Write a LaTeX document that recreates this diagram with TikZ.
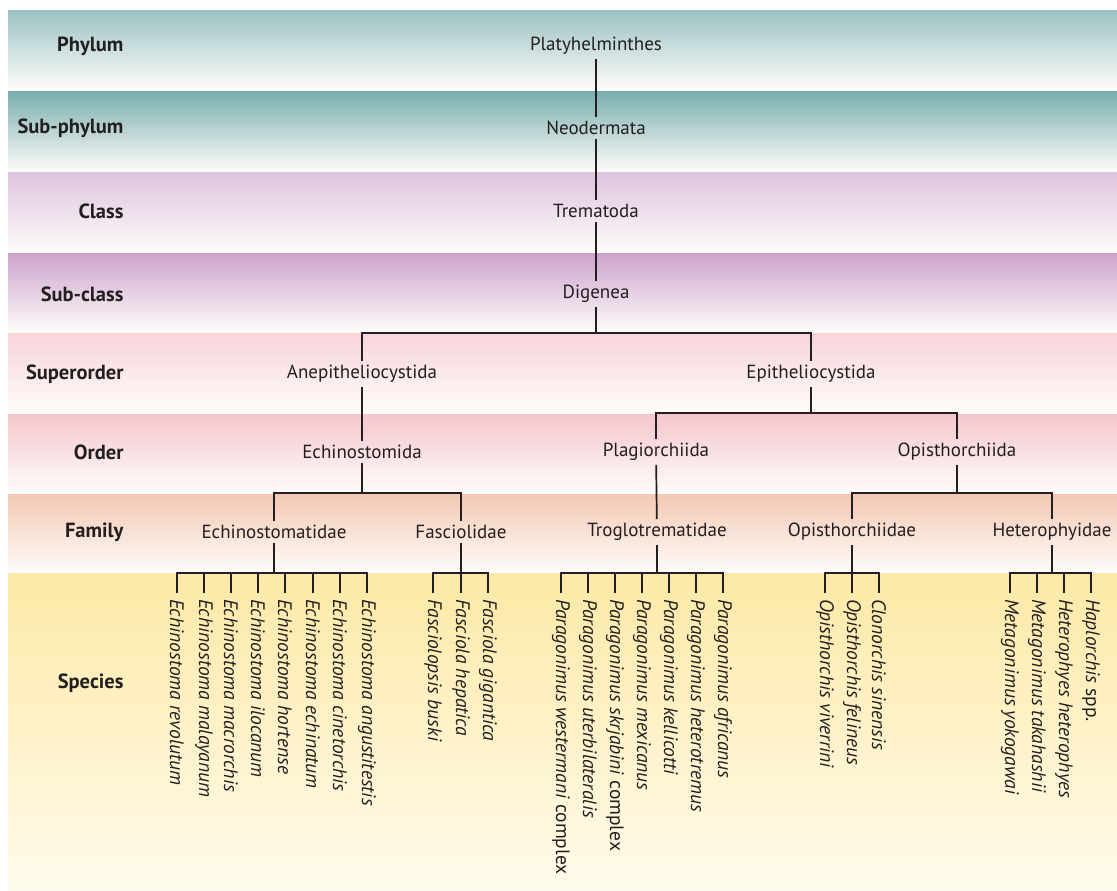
\documentclass[tikz,border=0pt]{standalone}
\usepackage{fontspec}
\setmainfont{PT Sans}
\usetikzlibrary{positioning}

\definecolor{inkc}{RGB}{35,31,32}
\definecolor{phylumc}{RGB}{158,195,196}
\definecolor{subphylumc}{RGB}{122,174,174}
\definecolor{classc}{RGB}{222,195,222}
\definecolor{subclassc}{RGB}{205,163,204}
\definecolor{superorderc}{RGB}{248,212,217}
\definecolor{orderc}{RGB}{245,198,205}
\definecolor{familyc}{RGB}{244,200,178}
\definecolor{speciesc}{RGB}{253,233,166}
\definecolor{paleend}{RGB}{254,252,250}
\definecolor{speciesend}{RGB}{255,251,236}

\tikzset{
  rank/.style={anchor=east, text=inkc, font=\fontsize{20.5}{22}\selectfont\bfseries},
  taxon/.style={text=inkc, inner sep=4pt, font=\fontsize{19}{21}\selectfont},
  species/.style={rotate=-90, anchor=west, inner sep=2pt, outer sep=4pt,
    text=inkc, font=\fontsize{19.5}{21}\selectfont\itshape},
  tree/.style={draw=inkc, line width=1.7pt}
}

\begin{document}
\begin{tikzpicture}[x=1pt, y=-1pt]
  \useasboundingbox (0,0) rectangle (1117,891);

  % Bands, one per rank
  \shade[top color=phylumc, bottom color=paleend] (8,11) rectangle (1117,90);
  \shade[top color=subphylumc, bottom color=paleend] (8,92) rectangle (1117,171);
  \shade[top color=classc, bottom color=paleend] (8,172) rectangle (1117,251);
  \shade[top color=subclassc, bottom color=paleend] (8,253) rectangle (1117,332);
  \shade[top color=superorderc, bottom color=paleend] (8,333) rectangle (1117,412);
  \shade[top color=orderc, bottom color=paleend] (8,414) rectangle (1117,492);
  \shade[top color=familyc, bottom color=paleend] (8,494) rectangle (1117,572);
  \shade[top color=speciesc, bottom color=speciesend] (8,573) rectangle (1117,891);

  % Rank names
  \node[rank] (rphylum) at (127,46) {Phylum};
  \node[rank] (rsubphylum) at (127,128) {Sub-phylum};
  \node[rank] (rclass) at (127,211) {Class};
  \node[rank] (rsubclass) at (127,294) {Sub-class};
  \node[rank] (rsuperorder) at (127,374) {Superorder};
  \node[rank] (rorder) at (127,452) {Order};
  \node[rank] (rfamily) at (127,532) {Family};
  \node[rank] (rspecies) at (127,683) {Species};

  % Upper taxa
  \node[taxon] (platy) at (596,46) {Platyhelminthes};
  \node[taxon] (neoder) at (596,128) {Neodermata};
  \node[taxon] (tremat) at (596,211) {Trematoda};
  \node[taxon] (digen) at (596,294) {Digenea};
  \node[taxon] (anepi) at (362,374) {Anepitheliocystida};
  \node[taxon] (epith) at (811,374) {Epitheliocystida};

  % Orders
  \node[taxon] (echord) at (362,452) {Echinostomida};
  \node[taxon] (plaord) at (656,452) {Plagiorchiida};
  \node[taxon] (opiord) at (957,452) {Opisthorchiida};

  % Families
  \node[taxon] (echfam) at (274,532) {Echinostomatidae};
  \node[taxon] (fasfam) at (461,532) {Fasciolidae};
  \node[taxon] (trofam) at (657,532) {Troglotrematidae};
  \node[taxon] (opifam) at (852,532) {Opisthorchiidae};
  \node[taxon] (hetfam) at (1052,532) {Heterophyidae};

  % Heights of the branching bars
  \coordinate (barsup) at (0,333);
  \coordinate (barord) at (0,413);
  \coordinate (barfam) at (0,493);
  \coordinate (barspe) at (0,573);

  % Species under Echinostomatidae
  \node[species] (ech1) at (177,593) {Echinostoma revolutum};
  \node[species] (ech2) at (204,593) {Echinostoma malayanum};
  \node[species] (ech3) at (231,593) {Echinostoma macrorchis};
  \node[species] (ech4) at (258,593) {Echinostoma ilocanum};
  \node[species] (ech5) at (285,593) {Echinostoma hortense};
  \node[species] (ech6) at (313,593) {Echinostoma echinatum};
  \node[species] (ech7) at (340,593) {Echinostoma cinetorchis};
  \node[species] (ech8) at (367,593) {Echinostoma angustitestis};

  % Species under Fasciolidae
  \node[species] (fas1) at (433,593) {Fasciolopsis buski};
  \node[species] (fas2) at (461,593) {Fasciola hepatica};
  \node[species] (fas3) at (488,593) {Fasciola gigantica};

  % Species under Troglotrematidae
  \node[species] (tro1) at (561,593) {Paragonimus westermani \textup{complex}};
  \node[species] (tro2) at (588,593) {Paragonimus uterbilateralis};
  \node[species] (tro3) at (615,593) {Paragonimus skrjabini \textup{complex}};
  \node[species] (tro4) at (642,593) {Paragonimus mexicanus};
  \node[species] (tro5) at (669,593) {Paragonimus kellicotti};
  \node[species] (tro6) at (696,593) {Paragonimus heterotremus};
  \node[species] (tro7) at (723,593) {Paragonimus africanus};

  % Species under Opisthorchiidae
  \node[species] (opi1) at (825,593) {Opisthorchis viverrini};
  \node[species] (opi2) at (852,593) {Opisthorchis felineus};
  \node[species] (opi3) at (879,593) {Clonorchis sinensis};

  % Species under Heterophyidae
  \node[species] (het1) at (1010,593) {Metagonimus yokogawai};
  \node[species] (het2) at (1037,593) {Metagonimus takahashii};
  \node[species] (het3) at (1064,593) {Heterophyes heterophyes};
  \node[species] (het4) at (1091,593) {Haplorchis \textup{spp.}};

  % Trunk
  \draw[tree] (platy) -- (neoder);
  \draw[tree] (neoder) -- (tremat);
  \draw[tree] (tremat) -- (digen);

  % Superorders
  \draw[tree] (digen) -- (digen |- barsup) -| (anepi);
  \draw[tree] (digen |- barsup) -| (epith);

  % Orders
  \draw[tree] (anepi) -- (echord);
  \draw[tree] (epith) -- (epith |- barord) -| (plaord);
  \draw[tree] (epith |- barord) -| (opiord);

  % Families
  \draw[tree] (echord) -- (echord |- barfam) -| (echfam);
  \draw[tree] (echord |- barfam) -| (fasfam);
  \draw[tree] (plaord) -- (trofam);
  \draw[tree] (opiord) -- (opiord |- barfam) -| (opifam);
  \draw[tree] (opiord |- barfam) -| (hetfam);

  % Species brackets
  \draw[tree] (echfam) -- (echfam |- barspe);
  \draw[tree] (ech1) -- (ech1 |- barspe) -- (ech8 |- barspe) -- (ech8);
  \draw[tree] (ech2) -- (ech2 |- barspe);
  \draw[tree] (ech3) -- (ech3 |- barspe);
  \draw[tree] (ech4) -- (ech4 |- barspe);
  \draw[tree] (ech5) -- (ech5 |- barspe);
  \draw[tree] (ech6) -- (ech6 |- barspe);
  \draw[tree] (ech7) -- (ech7 |- barspe);

  \draw[tree] (fasfam) -- (fasfam |- barspe);
  \draw[tree] (fas1) -- (fas1 |- barspe) -- (fas3 |- barspe) -- (fas3);
  \draw[tree] (fas2) -- (fas2 |- barspe);

  \draw[tree] (trofam) -- (trofam |- barspe);
  \draw[tree] (tro1) -- (tro1 |- barspe) -- (tro7 |- barspe) -- (tro7);
  \draw[tree] (tro2) -- (tro2 |- barspe);
  \draw[tree] (tro3) -- (tro3 |- barspe);
  \draw[tree] (tro4) -- (tro4 |- barspe);
  \draw[tree] (tro5) -- (tro5 |- barspe);
  \draw[tree] (tro6) -- (tro6 |- barspe);

  \draw[tree] (opifam) -- (opifam |- barspe);
  \draw[tree] (opi1) -- (opi1 |- barspe) -- (opi3 |- barspe) -- (opi3);
  \draw[tree] (opi2) -- (opi2 |- barspe);

  \draw[tree] (hetfam) -- (hetfam |- barspe);
  \draw[tree] (het1) -- (het1 |- barspe) -- (het4 |- barspe) -- (het4);
  \draw[tree] (het2) -- (het2 |- barspe);
  \draw[tree] (het3) -- (het3 |- barspe);
\end{tikzpicture}
\end{document}
